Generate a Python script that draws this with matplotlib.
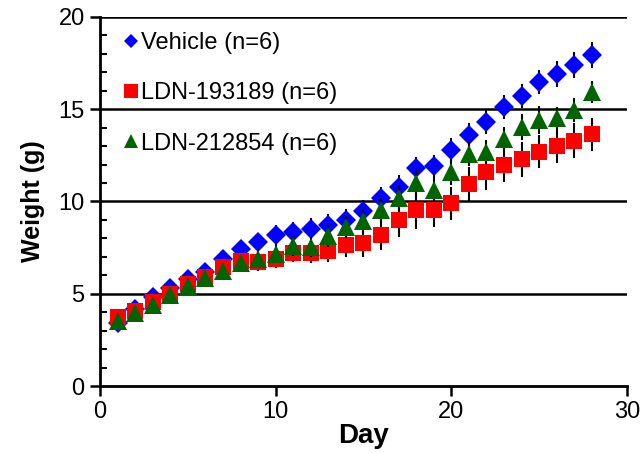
import matplotlib
matplotlib.use('Agg')
import matplotlib.pyplot as plt
from matplotlib.ticker import MultipleLocator
from matplotlib.lines import Line2D
import numpy as np

plt.rcParams['font.family'] = ['Liberation Sans', 'DejaVu Sans']

days = np.arange(1, 29)
vehicle = [3.4, 4.2, 4.8, 5.3, 5.8, 6.2, 6.9, 7.4, 7.8, 8.2, 8.35, 8.5, 8.7, 9.0,
           9.5, 10.2, 10.8, 11.8, 11.9, 12.8, 13.6, 14.3, 15.1, 15.7, 16.5, 16.9, 17.4, 17.95]
vehicle_err = [0.2, 0.2, 0.25, 0.25, 0.3, 0.3, 0.35, 0.4, 0.45, 0.55, 0.55, 0.6, 0.6, 0.6,
               0.6, 0.6, 0.65, 0.6, 0.6, 0.65, 0.65, 0.65, 0.65, 0.65, 0.65, 0.7, 0.7, 0.7]
ldn193 = [3.75, 4.05, 4.55, 5.0, 5.55, 5.9, 6.45, 6.75, 6.7, 6.9, 7.2, 7.2, 7.3, 7.65,
          7.75, 8.2, 9.0, 9.55, 9.55, 9.9, 10.95, 11.6, 12.0, 12.3, 12.7, 13.0, 13.3, 13.65]
ldn193_err = [0.2, 0.2, 0.25, 0.3, 0.3, 0.35, 0.4, 0.4, 0.45, 0.5, 0.5, 0.55, 0.6, 0.65,
              0.75, 0.85, 0.95, 1.05, 0.95, 0.9, 0.9, 0.95, 0.95, 0.95, 0.9, 0.9, 0.95, 0.9]
ldn212 = [3.55, 3.95, 4.4, 4.95, 5.4, 5.85, 6.25, 6.65, 6.9, 7.15, 7.6, 7.55, 8.15, 8.6,
          8.95, 9.55, 10.2, 11.0, 10.65, 11.6, 12.55, 12.7, 13.4, 14.05, 14.4, 14.5, 14.95, 15.95]
ldn212_err = [0.25, 0.25, 0.25, 0.3, 0.3, 0.35, 0.35, 0.4, 0.45, 0.5, 0.55, 0.55, 0.6, 0.6,
              0.65, 0.65, 0.7, 0.7, 0.65, 0.7, 0.65, 0.65, 0.65, 0.7, 0.75, 0.6, 0.65, 0.6]

labels = ['Vehicle (n=6)', 'LDN-193189 (n=6)', 'LDN-212854 (n=6)']
colors = ['#0000FF', '#FF0000', '#006400']
markers = ['D', 's', '^']
sizes = [9.8, 12, 13]
legend_sizes = [7, 10.5, 10.5]

fig = plt.figure(figsize=(6.43, 4.53), dpi=100)
ax = fig.add_axes([0.1555, 0.1479, 0.8195, 0.8146])

for y in [5, 10, 15, 20]:
    ax.axhline(y, color='black', lw=1.8, zorder=1)

series = [(vehicle, vehicle_err), (ldn193, ldn193_err), (ldn212, ldn212_err)]
handles = []
for i, (vals, err) in enumerate(series):
    ax.errorbar(days, vals, yerr=err, fmt=markers[i], color=colors[i], ms=sizes[i],
                mew=0, ecolor='black', elinewidth=1.5, capsize=3.5, capthick=1.5,
                zorder=3 + i)
    handles.append(Line2D([], [], ls='none', marker=markers[i], color=colors[i],
                          ms=legend_sizes[i], mew=0, label=labels[i]))

ax.set_xlim(0, 30)
ax.set_ylim(0, 20)
ax.xaxis.set_major_locator(MultipleLocator(10))
ax.yaxis.set_major_locator(MultipleLocator(5))
ax.yaxis.set_minor_locator(MultipleLocator(1))
ax.tick_params(axis='both', which='major', direction='out', length=7, width=1.8,
               labelsize=17, color='black', pad=4)
ax.tick_params(axis='y', which='minor', direction='in', length=5, width=1.5)

for s in ['top', 'right']:
    ax.spines[s].set_visible(False)
for s in ['left', 'bottom']:
    ax.spines[s].set_linewidth(2)
    ax.spines[s].set_zorder(2)

ax.set_xlabel('Day', fontsize=20, fontweight='bold', labelpad=0)
ax.set_ylabel('Weight (g)', fontsize=18, fontweight='bold', labelpad=10)

ax.legend(handles=handles, loc='upper left', bbox_to_anchor=(0.025, 0.985), frameon=False,
          fontsize=17, handlelength=0.7, handletextpad=0.1, labelspacing=1.2,
          borderaxespad=0)

fig.savefig('out.png', dpi=100)
